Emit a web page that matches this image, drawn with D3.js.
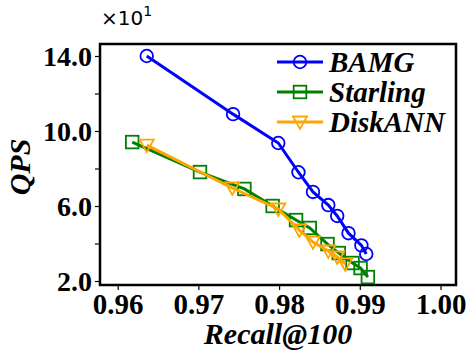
<!DOCTYPE html>
<html>
<head>
<meta charset="utf-8">
<script src="https://cdn.jsdelivr.net/npm/d3@7"></script>
<style>
  body { margin: 0; background: #fff; }
  svg { display: block; }
</style>
</head>
<body>
<div id="chart"></div>
<script>
// recall@100 vs QPS (x10)
var bamgRecall = [0.9636, 0.9743, 0.9799, 0.9824, 0.9842, 0.9861, 0.9872, 0.9886, 0.9902, 0.9908];
var bamgQps    = [14.0, 10.9, 9.36, 7.8, 6.75, 6.05, 5.47, 4.55, 3.9, 3.44];

var starlingRecall = [0.9618, 0.9702, 0.9757, 0.9792, 0.9821, 0.9838, 0.9860, 0.9874, 0.9891, 0.9901, 0.9910];
var starlingQps    = [9.41, 7.81, 6.91, 6.0, 5.25, 4.83, 3.97, 3.49, 2.96, 2.69, 2.21];

var diskannRecall = [0.9636, 0.9742, 0.9799, 0.9825, 0.9842, 0.9861, 0.9872, 0.9882];
var diskannQps    = [9.25, 6.96, 5.84, 4.72, 4.08, 3.6, 3.28, 2.91];

var seriesNames = ['BAMG', 'Starling', 'DiskANN'];
var xTicks = [0.96, 0.97, 0.98, 0.99, 1.00];
var yTicks = [2, 4, 6, 8, 10, 12, 14];
var yTickLabels = [2, 6, 10, 14];

var W = 475, H = 361;
var plotLeft = 100, plotRight = 456, plotTop = 44, plotBottom = 285;

var series = [
  { name: seriesNames[0], x: bamgRecall, y: bamgQps, color: '#0000ff', marker: 'circle' },
  { name: seriesNames[1], x: starlingRecall, y: starlingQps, color: '#008000', marker: 'square' },
  { name: seriesNames[2], x: diskannRecall, y: diskannQps, color: '#ffa500', marker: 'triangle' }
];

var x = d3.scaleLinear().domain([0.95781, 1.00192]).range([plotLeft, plotRight]);
var y = d3.scaleLinear().domain([1.787, 14.64]).range([plotBottom, plotTop]);

var svg = d3.select('#chart')
  .append('svg')
  .attr('width', W)
  .attr('height', H);

var serif = '"Liberation Serif", "Times New Roman", serif';

// axes
var xAxis = svg.append('g')
  .attr('transform', 'translate(0,' + plotBottom + ')')
  .call(d3.axisBottom(x).tickValues(xTicks).tickFormat(d3.format('.2f')).tickSize(5).tickPadding(3));

var yAxis = svg.append('g')
  .attr('transform', 'translate(' + plotLeft + ',0)')
  .call(d3.axisLeft(y).tickValues(yTicks)
    .tickFormat(function(d) { return yTickLabels.indexOf(d) >= 0 ? d3.format('.1f')(d) : ''; })
    .tickSize(5).tickPadding(3));

[xAxis, yAxis].forEach(function(a) {
  a.select('.domain').remove();
  a.selectAll('line').attr('stroke', '#000').attr('stroke-width', 1.2);
  a.selectAll('text')
    .attr('fill', '#000')
    .style('font-family', serif)
    .style('font-weight', 'bold')
    .style('font-size', '29px');
});
yAxis.selectAll('text').attr('dy', '0.34em').style('font-size', '28px');

// frame
svg.append('rect')
  .attr('x', plotLeft).attr('y', plotTop)
  .attr('width', plotRight - plotLeft).attr('height', plotBottom - plotTop)
  .attr('fill', 'none').attr('stroke', '#000').attr('stroke-width', 2.5);

// multiplier
var mult = svg.append('text')
  .attr('x', 101).attr('y', 25)
  .style('font-family', '"DejaVu Sans", sans-serif')
  .style('font-size', '20px');
mult.append('tspan').text('\u00d710');
mult.append('tspan').attr('dy', -9).style('font-size', '14px').text('1');

// axis titles
svg.append('text')
  .attr('x', 278).attr('y', 344)
  .attr('text-anchor', 'middle')
  .style('font-family', serif)
  .style('font-weight', 'bold')
  .style('font-style', 'italic')
  .style('font-size', '30px')
  .text('Recall@100');

svg.append('text')
  .attr('transform', 'translate(30,167) rotate(-90)')
  .attr('text-anchor', 'middle')
  .style('font-family', serif)
  .style('font-weight', 'bold')
  .style('font-style', 'italic')
  .style('font-size', '30px')
  .text('QPS');

function drawMarker(g, type, color) {
  if (type === 'circle') {
    g.append('circle').attr('r', 6.3);
  } else if (type === 'square') {
    g.append('rect').attr('x', -6.3).attr('y', -6.3).attr('width', 12.6).attr('height', 12.6);
  } else {
    g.append('path').attr('d', 'M-7,-5.5L7,-5.5L0,7Z');
  }
  g.selectAll('*').attr('fill', 'none').attr('stroke', color).attr('stroke-width', 1.8);
}

var line = d3.line().x(function(d) { return x(d[0]); }).y(function(d) { return y(d[1]); });

series.forEach(function(s) {
  var pts = d3.zip(s.x, s.y);
  svg.append('path')
    .datum(pts)
    .attr('d', line)
    .attr('fill', 'none')
    .attr('stroke', s.color)
    .attr('stroke-width', 3);

  svg.append('g').selectAll('g')
    .data(pts)
    .enter()
    .append('g')
    .attr('transform', function(d) { return 'translate(' + x(d[0]) + ',' + y(d[1]) + ')'; })
    .each(function() { drawMarker(d3.select(this), s.marker, s.color); });
});

// legend
var legend = svg.append('g');
series.forEach(function(s, i) {
  var row = legend.append('g').attr('transform', 'translate(277,' + (62 + i * 30) + ')');
  row.append('line')
    .attr('x1', 0).attr('x2', 46)
    .attr('stroke', s.color).attr('stroke-width', 3);
  drawMarker(row.append('g').attr('transform', 'translate(23,0)'), s.marker, s.color);
  row.append('text')
    .attr('x', 52).attr('dy', '0.34em')
    .style('font-family', serif)
    .style('font-weight', 'bold')
    .style('font-style', 'italic')
    .style('font-size', '29px')
    .text(s.name);
});
</script>
</body>
</html>
